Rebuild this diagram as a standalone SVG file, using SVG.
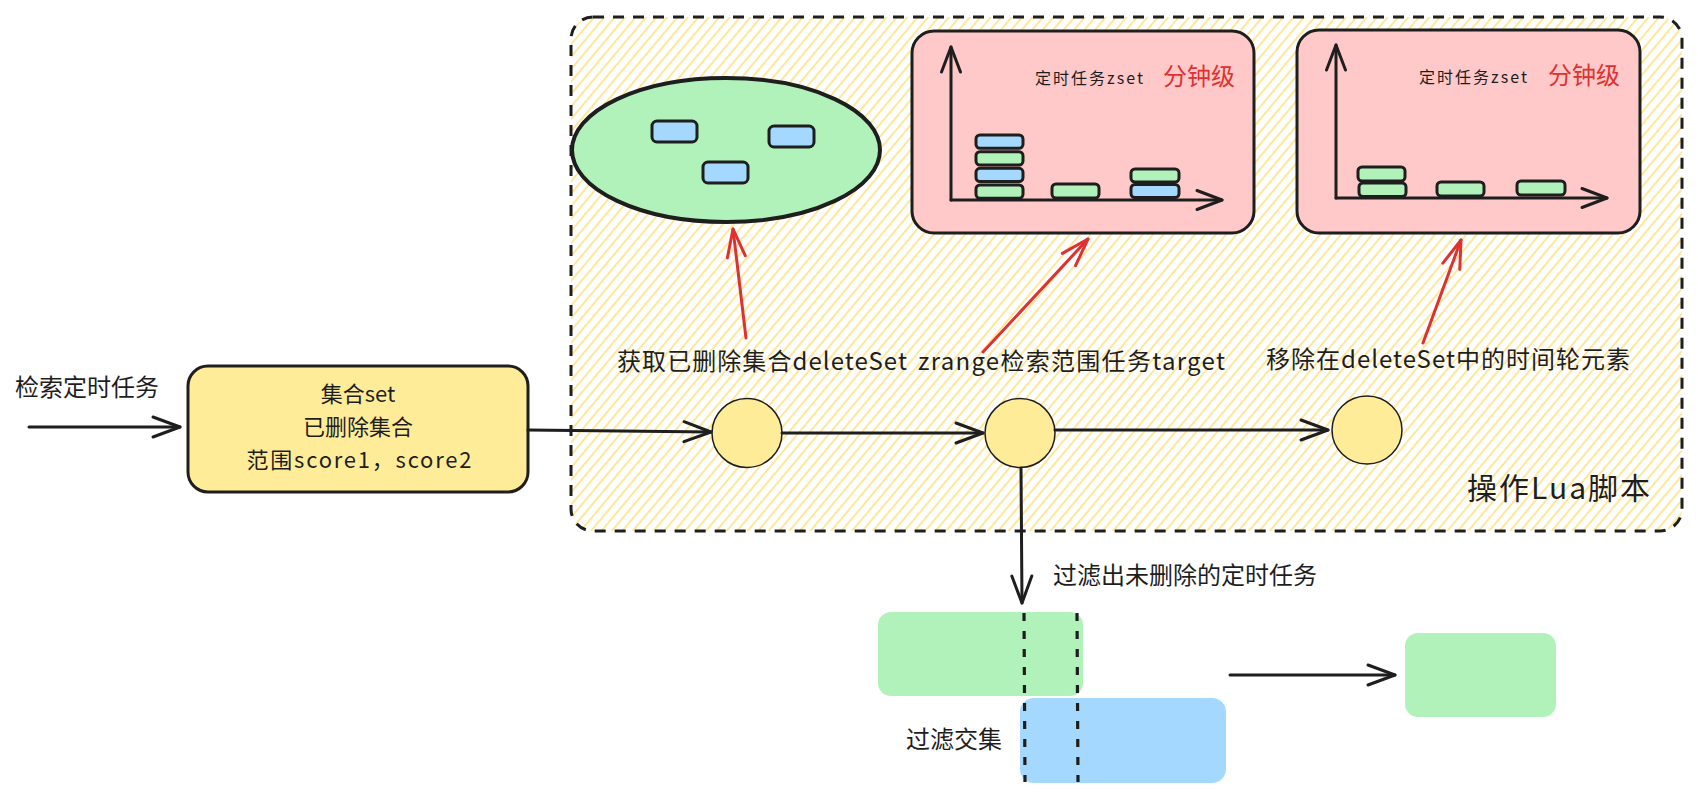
<svg xmlns="http://www.w3.org/2000/svg" width="1698" height="795" viewBox="0 0 1698 795">
<style>
.t{font-family:"Noto Sans CJK SC","Liberation Sans",sans-serif;fill:#1e1e1e;font-size:24px}
.bt{font-size:22px}
.red{fill:#e03131}
.ln{fill:none;stroke:#1e1e1e;stroke-width:3;stroke-linecap:round;stroke-linejoin:round}
.rl{fill:none;stroke:#e03131;stroke-width:3;stroke-linecap:round}
.bar{stroke:#1e1e1e;stroke-width:3}
.g{fill:#b0f2b9}
.b{fill:#a5d8ff}
.y{fill:#ffec99}
</style>
<defs>
<pattern id="hatch" patternUnits="userSpaceOnUse" width="8" height="10" patternTransform="rotate(40)">
<line x1="2" y1="0" x2="2" y2="10" stroke="#ffe58f" stroke-width="1.8"/>
</pattern>
<marker id="ah" markerUnits="userSpaceOnUse" markerWidth="40" markerHeight="30" viewBox="-35 -15 40 30" refX="0" refY="0" orient="auto" overflow="visible">
<path d="M-27,-10 L0,0 L-27,10" fill="none" stroke="#1e1e1e" stroke-width="3" stroke-linecap="round" stroke-linejoin="round"/>
</marker>
<marker id="ahs" markerUnits="userSpaceOnUse" markerWidth="40" markerHeight="30" viewBox="-35 -15 40 30" refX="0" refY="0" orient="auto" overflow="visible">
<path d="M-25,-9.5 L0,0 L-25,9.5" fill="none" stroke="#1e1e1e" stroke-width="3" stroke-linecap="round" stroke-linejoin="round"/>
</marker>
<marker id="ahr" markerUnits="userSpaceOnUse" markerWidth="40" markerHeight="30" viewBox="-35 -15 40 30" refX="0" refY="0" orient="auto" overflow="visible">
<path d="M-28,-9 L0,0 L-28,9" fill="none" stroke="#e03131" stroke-width="3" stroke-linecap="round" stroke-linejoin="round"/>
</marker>
</defs>
<rect width="1698" height="795" fill="#ffffff"/>

<g id="lua-container">
<rect x="571" y="17" width="1111" height="514" rx="22" fill="url(#hatch)" stroke="#1e1e1e" stroke-width="3" stroke-dasharray="11 9"/>
<text class="t" x="1467" y="499" style="font-size:30px" textLength="183">操作Lua脚本</text>
</g>

<g id="deleted-set">
<ellipse cx="726" cy="150" rx="154" ry="72" class="g" stroke="#1e1e1e" stroke-width="4"/>
<rect x="652" y="121" width="45" height="21" rx="5" class="b bar"/>
<rect x="769" y="126" width="45" height="21" rx="5" class="b bar"/>
<rect x="703" y="162" width="45" height="21" rx="5" class="b bar"/>
</g>

<g id="zset-before">
<rect x="912" y="31" width="342" height="202" rx="22" fill="#ffc9c9" stroke="#1e1e1e" stroke-width="3"/>
<path class="ln" d="M951,200 L951,47" marker-end="url(#ahs)"/>
<path class="ln" d="M951,200 L1222,200" marker-end="url(#ahs)"/>
<text class="t" x="1035" y="84" style="font-size:16px" textLength="108">定时任务zset</text>
<text class="t red" x="1163" y="85">分钟级</text>
<rect x="976" y="135" width="47" height="13.3" rx="4" class="b bar"/>
<rect x="976" y="151.7" width="47" height="13.3" rx="4" class="g bar"/>
<rect x="976" y="168.3" width="47" height="13.3" rx="4" class="b bar"/>
<rect x="976" y="185" width="47" height="13.3" rx="4" class="g bar"/>
<rect x="1052" y="184" width="47" height="14" rx="4" class="g bar"/>
<rect x="1131" y="169" width="48" height="13" rx="4" class="g bar"/>
<rect x="1131" y="184.5" width="48" height="13" rx="4" class="b bar"/>
</g>

<g id="zset-after">
<rect x="1297" y="30" width="343" height="203" rx="22" fill="#ffc9c9" stroke="#1e1e1e" stroke-width="3"/>
<path class="ln" d="M1336,198 L1336,45" marker-end="url(#ahs)"/>
<path class="ln" d="M1336,198 L1607,198" marker-end="url(#ahs)"/>
<text class="t" x="1419" y="83" style="font-size:16px" textLength="108">定时任务zset</text>
<text class="t red" x="1548" y="84">分钟级</text>
<rect x="1358" y="167" width="47" height="14" rx="4" class="g bar"/>
<rect x="1359" y="183" width="47" height="13.5" rx="4" class="g bar"/>
<rect x="1437" y="182" width="47" height="14" rx="4" class="g bar"/>
<rect x="1517" y="181" width="48" height="14" rx="4" class="g bar"/>
</g>

<g id="input-label">
<text class="t" x="15" y="396">检索定时任务</text>
</g>

<g id="params">
<rect x="188" y="366" width="340" height="126" rx="20" class="y" stroke="#1e1e1e" stroke-width="3"/>
<text class="t bt" x="358" y="402" text-anchor="middle">集合set</text>
<text class="t bt" x="358" y="435" text-anchor="middle">已删除集合</text>
<text class="t bt" x="359" y="468" text-anchor="middle" textLength="225">范围score1，score2</text>
</g>

<g id="step1">
<ellipse cx="747" cy="433" rx="35" ry="34.5" class="y" stroke="#1e1e1e" stroke-width="1.5"/>
<text class="t" x="617" y="370" textLength="290">获取已删除集合deleteSet</text>
</g>

<g id="step2">
<ellipse cx="1020" cy="433" rx="35" ry="34.5" class="y" stroke="#1e1e1e" stroke-width="1.5"/>
<text class="t" x="918" y="370" textLength="307">zrange检索范围任务target</text>
</g>

<g id="step3">
<ellipse cx="1367" cy="430" rx="35" ry="34" class="y" stroke="#1e1e1e" stroke-width="1.5"/>
<text class="t" x="1266" y="368" textLength="364">移除在deleteSet中的时间轮元素</text>
</g>

<g id="filter-label">
<text class="t" x="1053" y="584">过滤出未删除的定时任务</text>
</g>

<g id="intersection">
<rect x="878" y="612" width="205" height="84" rx="13" class="g"/>
<rect x="1020" y="698" width="206" height="85" rx="14" class="b"/>
<line x1="1024" y1="613" x2="1025" y2="782" stroke="#1e1e1e" stroke-width="3.2" stroke-dasharray="8 10"/>
<line x1="1077" y1="613" x2="1078" y2="782" stroke="#1e1e1e" stroke-width="3.2" stroke-dasharray="8 10"/>
<text class="t" x="906" y="748">过滤交集</text>
</g>

<g id="result">
<rect x="1405" y="633" width="151" height="84" rx="13" class="g"/>
</g>

<g id="connectors">
<path class="ln" d="M29,427 L180,427" marker-end="url(#ah)"/>
<path class="ln" d="M528,430 L711,432" marker-end="url(#ah)"/>
<path class="ln" d="M782,433 L983,433" marker-end="url(#ah)"/>
<path class="ln" d="M1055,430 L1328,430" marker-end="url(#ah)"/>
<path class="ln" d="M1021,468 L1022,603" marker-end="url(#ah)"/>
<path class="ln" d="M1230,675 L1395,675" marker-end="url(#ah)"/>
<path class="rl" d="M746,338 L733,229" marker-end="url(#ahr)"/>
<path class="rl" d="M983,352 L1088,239" marker-end="url(#ahr)"/>
<path class="rl" d="M1423,343 L1461,240" marker-end="url(#ahr)"/>
</g>
</svg>
